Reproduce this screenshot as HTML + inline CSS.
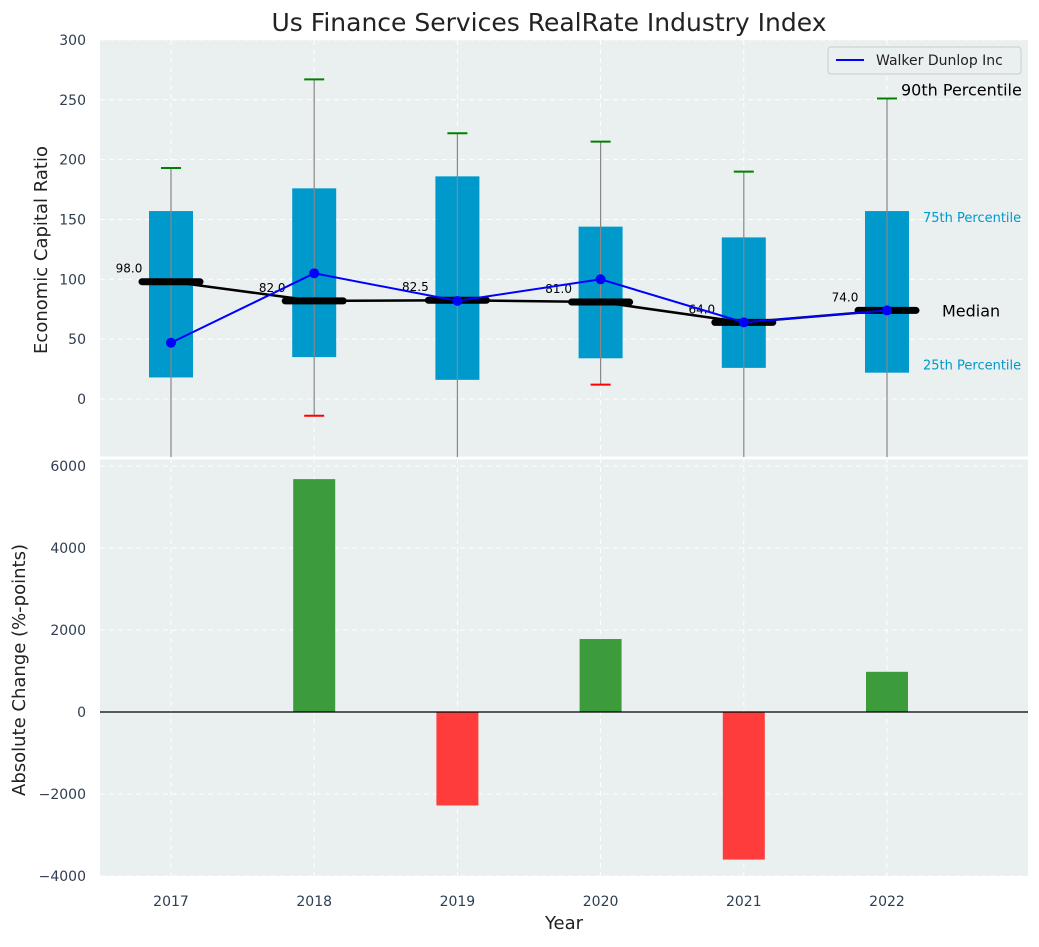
<!DOCTYPE html>
<html><head><meta charset="utf-8"><style>
body{margin:0;background:#fff;font-family:"Liberation Sans","DejaVu Sans",sans-serif}
svg text{font-family:"DejaVu Sans","Liberation Sans",sans-serif}
</style></head><body>
<svg id="c" width="1039" height="942" xmlns="http://www.w3.org/2000/svg"></svg>
<script>
const years=[2017,2018,2019,2020,2021,2022];
const q1=[18,35,16,34,26,22];
const q3=[157,176,186,144,135,157];
const medians=[98.0,82.0,82.5,81.0,64.0,74.0];
const p90=[193,267,222,215,190,251];
const p10=[-80,-14,-80,12,-80,-80];
const company=[47,105,82,100,64,74];
const changes=[0,5680,-2280,1780,-3600,980];
const topTicks=[0,50,100,150,200,250,300];
const botTicks=[-4000,-2000,0,2000,4000,6000];

const NS="http://www.w3.org/2000/svg";
const svg=document.getElementById('c');
function el(t,a,p){const e=document.createElementNS(NS,t);for(const k in a)e.setAttribute(k,a[k]);(p||svg).appendChild(e);return e;}
const L=100,R=1028;
const x=v=>171+(v-2017)*143.2;
const yT=v=>399-v*1.197;
const yB=v=>712-v*0.041;
const T0=40,T1=458,B0=458,B1=876;

let e=el('rect',{x:L,y:T0,width:R-L,height:T1-T0,fill:'#eaeff0'});

e=el('rect',{x:L,y:B0,width:R-L,height:B1-B0,fill:'#eaeff0'});

topTicks.forEach(t=>{el('line',{x1:L,x2:R,y1:yT(t),y2:yT(t),stroke:'#fff','stroke-dasharray':'5,4'});
 const tx=el('text',{x:86,y:yT(t)+5,'text-anchor':'end','font-size':14,fill:'#2f3e50'});tx.textContent=t;
 });
botTicks.forEach(t=>{el('line',{x1:L,x2:R,y1:yB(t),y2:yB(t),stroke:'#fff','stroke-dasharray':'5,4'});
 const tx=el('text',{x:86,y:yB(t)+5,'text-anchor':'end','font-size':14,fill:'#2f3e50'});tx.textContent=(t<0?'\u2212'+(-t):t);
 });
years.forEach(yr=>{el('line',{x1:x(yr),x2:x(yr),y1:T0,y2:T1,stroke:'#fff','stroke-dasharray':'5,4'});
 el('line',{x1:x(yr),x2:x(yr),y1:B0,y2:B1,stroke:'#fff','stroke-dasharray':'5,4'});
 const tx=el('text',{x:x(yr),y:906,'text-anchor':'middle','font-size':14,fill:'#2f3e50'});tx.textContent=yr;
 });
el('line',{x1:L,x2:R,y1:458,y2:458,stroke:'#fff','stroke-width':3});

const defs=el('defs',{});const cp=el('clipPath',{id:'ct'},defs);el('rect',{x:L,y:T0,width:R-L,height:T1-T0-1},cp);
const g=el('g',{'clip-path':'url(#ct)'});
years.forEach((yr,i)=>{
 const cx=x(yr),bw=44;
 let b=el('rect',{x:cx-bw/2,y:yT(q3[i]),width:bw,height:yT(q1[i])-yT(q3[i]),fill:'#0099cc'},g);
 
 el('line',{x1:cx,x2:cx,y1:yT(p90[i]),y2:yT(p10[i]),stroke:'#888','stroke-width':1.2},g);
 el('line',{x1:cx-10,x2:cx+10,y1:yT(p90[i]),y2:yT(p90[i]),stroke:'green','stroke-width':2},g);
 el('line',{x1:cx-10,x2:cx+10,y1:yT(p10[i]),y2:yT(p10[i]),stroke:'red','stroke-width':2},g);
});
let pts=years.map((yr,i)=>x(yr)+','+yT(medians[i])).join(' ');
el('polyline',{points:pts,fill:'none',stroke:'#000','stroke-width':2.5},g);
years.forEach((yr,i)=>{
 const m=el('line',{x1:x(yr)-29,x2:x(yr)+29,y1:yT(medians[i]),y2:yT(medians[i]),stroke:'#000','stroke-width':7,'stroke-linecap':'round'},g);
 
 const t=el('text',{x:x(yr)-42,y:yT(medians[i])-9,'text-anchor':'middle','font-size':12,fill:'#000'},g);t.textContent=medians[i].toFixed(1);
 
});
pts=years.map((yr,i)=>x(yr)+','+yT(company[i])).join(' ');
el('polyline',{points:pts,fill:'none',stroke:'blue','stroke-width':2},g);
years.forEach((yr,i)=>{const c=el('circle',{cx:x(yr),cy:yT(company[i]),r:5,fill:'blue'},g);
 });
const lx=x(2022);
[['90th Percentile',lx+14,yT(p90[5])-3,16,'#000','start'],['75th Percentile',lx+36,yT(q3[5])+11,13,'#0099cc','start'],
 ['Median',lx+55,yT(medians[5])+6,16,'#000','start'],['25th Percentile',lx+36,yT(q1[5])-3,13,'#0099cc','start']].forEach(a=>{
 const t=el('text',{x:a[1],y:a[2],'font-size':a[3],fill:a[4],'text-anchor':a[5]});t.textContent=a[0];
 });
const lg=el('g',{});
el('rect',{x:828,y:47,width:193,height:27,rx:3,fill:'#eaeff0',stroke:'#ccc'},lg);
el('line',{x1:836,x2:864,y1:60,y2:60,stroke:'blue','stroke-width':2},lg);
let t=el('text',{x:876,y:65,'font-size':14,fill:'#222'},lg);t.textContent='Walker Dunlop Inc';

years.forEach((yr,i)=>{const v=changes[i];if(v===0)return;
 const y0=yB(Math.max(v,0)),h=Math.abs(yB(v)-yB(0));
 const b=el('rect',{x:x(yr)-21,y:y0,width:42,height:h,fill:v>0?'#3c9c3c':'#ff3c3c'});
 });
el('line',{x1:L,x2:R,y1:yB(0),y2:yB(0),stroke:'#000','stroke-width':1.2});

t=el('text',{x:549,y:31,'text-anchor':'middle','font-size':25,fill:'#222'});t.textContent='Us Finance Services RealRate Industry Index';

t=el('text',{x:564,y:929,'text-anchor':'middle','font-size':18,fill:'#222'});t.textContent='Year';

t=el('text',{x:0,y:0,'text-anchor':'middle','font-size':18,fill:'#222',transform:'translate(47,250) rotate(-90)'});t.textContent='Economic Capital Ratio';

t=el('text',{x:0,y:0,'text-anchor':'middle','font-size':18,fill:'#222',transform:'translate(25,670) rotate(-90)'});t.textContent='Absolute Change (%-points)';

</script>
</body></html>
